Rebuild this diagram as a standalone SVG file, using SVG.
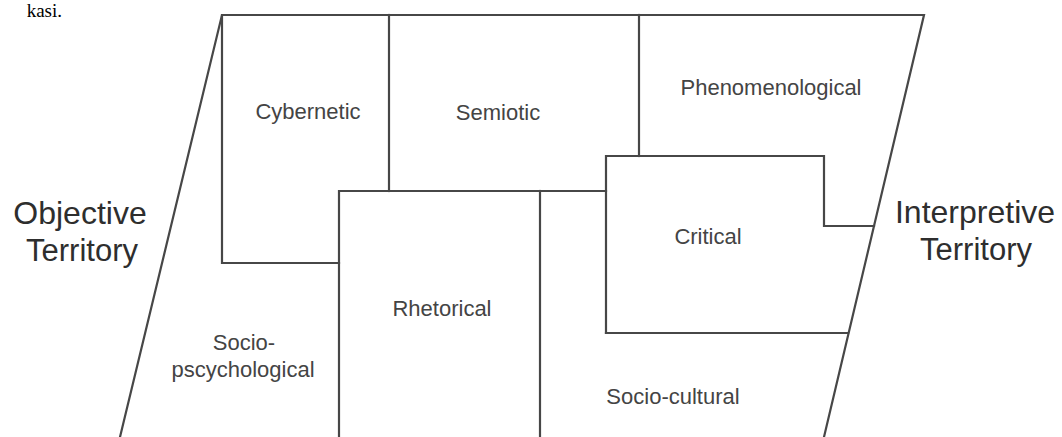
<svg xmlns="http://www.w3.org/2000/svg" width="1062" height="437" viewBox="0 0 1062 437">
<style>
.ln{fill:none;stroke:#474747;stroke-width:2.2;stroke-linecap:square}
.lbl{font-family:"Liberation Sans",Arial,sans-serif;font-size:22px;fill:#444;text-anchor:middle}
.big{font-family:"Liberation Sans",Arial,sans-serif;font-size:32px;fill:#2e2e2e;text-anchor:middle}
.ser{font-family:"Liberation Serif","Times New Roman",serif;font-size:19px;fill:#000}
</style>
<rect width="1062" height="437" fill="#fff"/>
<text class="ser" x="62" y="17" text-anchor="end">kasi.</text>
<g id="connectors">
<path class="ln" d="M120,437 L222,15 L924,15 L824,437"/>
<path class="ln" d="M222,15 V263 H339"/>
<path class="ln" d="M389,15 V191"/>
<path class="ln" d="M339,437 V191 H606"/>
<path class="ln" d="M540,191 V437"/>
<path class="ln" d="M639,15 V156"/>
<path class="ln" d="M606,333 V156 H824 V226 H874"/>
<path class="ln" d="M606,333 H848"/>
</g>
<g id="objective"><text class="big" x="80" y="224">Objective</text><text class="big" x="82" y="261" style="font-size:31px">Territory</text></g>
<g id="interpretive"><text class="big" x="975" y="223">Interpretive</text><text class="big" x="976" y="260" style="font-size:31px">Territory</text></g>
<g id="cybernetic"><text class="lbl" x="308" y="119">Cybernetic</text></g>
<g id="semiotic"><text class="lbl" x="498" y="120">Semiotic</text></g>
<g id="phenomenological"><text class="lbl" x="771" y="95">Phenomenological</text></g>
<g id="critical"><text class="lbl" x="708" y="244">Critical</text></g>
<g id="rhetorical"><text class="lbl" x="442" y="316">Rhetorical</text></g>
<g id="sociopsychological"><text class="lbl" x="244" y="350">Socio-</text><text class="lbl" x="243" y="377">pscychological</text></g>
<g id="sociocultural"><text class="lbl" x="673" y="404">Socio-cultural</text></g>
</svg>
